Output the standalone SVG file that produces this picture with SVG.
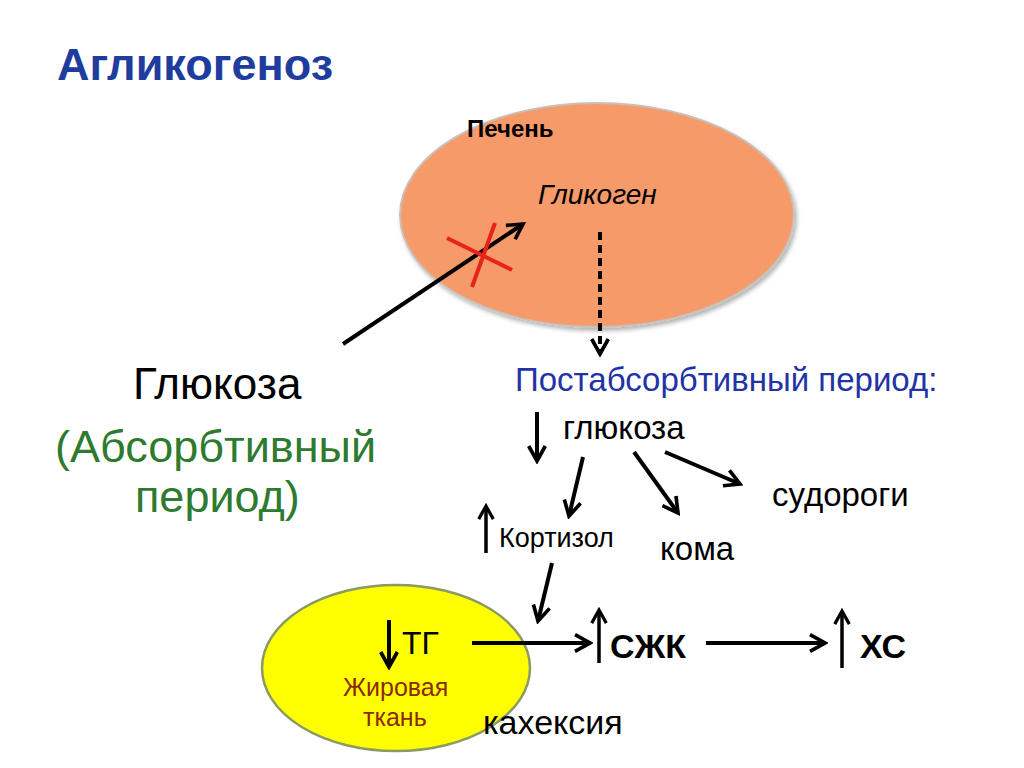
<svg xmlns="http://www.w3.org/2000/svg" width="1024" height="768" viewBox="0 0 1024 768">
<style>
.t{font-family:"Liberation Sans",Arial,sans-serif;fill:#000}
.ln{stroke:#000;stroke-width:4;fill:none;marker-end:url(#ah)}
.up{stroke:#000;stroke-width:3.5;fill:none;marker-end:url(#ah)}
</style>
<defs>
<marker id="ah" viewBox="0 0 12 12" refX="10" refY="6" markerWidth="5" markerHeight="5" orient="auto" markerUnits="strokeWidth">
<path d="M1,1 L10,6 L1,11" fill="none" stroke="#000" stroke-width="2.2"/>
</marker>
<filter id="sh" x="-10%" y="-10%" width="120%" height="120%">
<feDropShadow dx="2" dy="3" stdDeviation="2" flood-color="#000" flood-opacity="0.3"/>
</filter>
</defs>
<rect width="1024" height="768" fill="#fff"/>
<text class="t" x="57" y="80" font-size="45" font-weight="bold" style="fill:#1f3d9e">Агликогеноз</text>

<g id="liver">
<ellipse cx="597" cy="215" rx="197" ry="112" fill="#F79A69" stroke="#c9c0b8" stroke-width="2" filter="url(#sh)"/>
<text class="t" x="467" y="137" font-size="24" font-weight="bold">Печень</text>
<text class="t" x="538" y="204" font-size="28" font-style="italic">Гликоген</text>
</g>

<g id="fat">
<ellipse cx="396" cy="668" rx="134" ry="83" fill="#FFFF00" stroke="#8a9a62" stroke-width="2.5"/>
<text class="t" x="402" y="654" font-size="32">ТГ</text>
<text class="t" x="343" y="696" font-size="25" style="fill:#8b2a00">Жировая</text>
<text class="t" x="363" y="726" font-size="25" style="fill:#8b2a00">ткань</text>
</g>

<g id="labels">
<text class="t" x="133" y="399" font-size="44">Глюкоза</text>
<text class="t" x="55" y="462" font-size="45" style="fill:#2e7a2e">(Абсорбтивный</text>
<text class="t" x="135" y="512" font-size="45" style="fill:#2e7a2e">период)</text>
<text class="t" x="515" y="391" font-size="33" style="fill:#2233a6">Постабсорбтивный период:</text>
<text class="t" x="563" y="439" font-size="33">глюкоза</text>
<text class="t" x="772" y="506" font-size="33">судороги</text>
<text class="t" x="499" y="547" font-size="27">Кортизол</text>
<text class="t" x="660" y="560" font-size="33">кома</text>
<text class="t" x="610" y="658" font-size="34" font-weight="bold">СЖК</text>
<text class="t" x="860" y="658" font-size="34" font-weight="bold">ХС</text>
<text class="t" x="483" y="734" font-size="34">кахексия</text>
</g>

<g id="connectors">
<line class="ln" x1="343" y1="344" x2="523" y2="224"/>
<line x1="447" y1="238" x2="512" y2="270" stroke="#e8231b" stroke-width="4"/>
<line x1="495" y1="223" x2="472" y2="287" stroke="#e8231b" stroke-width="4"/>
<line class="ln" x1="600" y1="232" x2="600" y2="354" stroke-dasharray="8,5"/>
<line class="ln" x1="537" y1="412" x2="537" y2="461"/>
<line class="ln" x1="583" y1="457" x2="569" y2="516"/>
<line class="ln" x1="634" y1="452" x2="678" y2="513"/>
<line class="ln" x1="665" y1="452" x2="740" y2="484"/>
<line class="up" x1="486" y1="553" x2="486" y2="506"/>
<line class="ln" x1="552" y1="563" x2="538" y2="621"/>
<line class="ln" x1="389" y1="620" x2="389" y2="667"/>
<line class="ln" x1="472" y1="643" x2="590" y2="643"/>
<line class="up" x1="599" y1="663" x2="599" y2="610"/>
<line class="ln" x1="706" y1="643" x2="825" y2="643"/>
<line class="up" x1="842" y1="668" x2="842" y2="611"/>
</g>
</svg>
